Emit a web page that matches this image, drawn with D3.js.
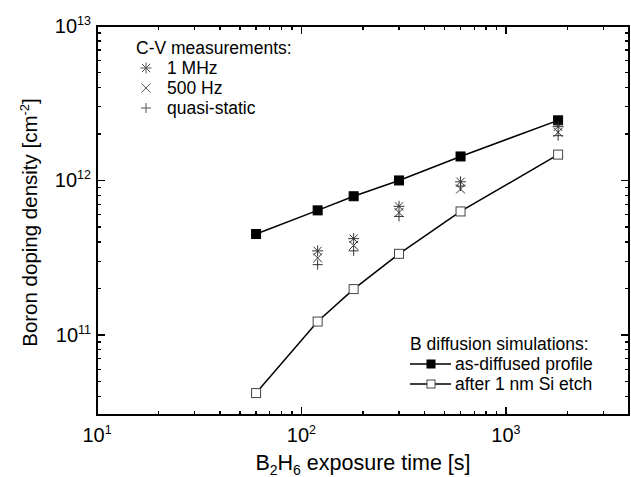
<!DOCTYPE html>
<html><head><meta charset="utf-8">
<script src="https://cdn.jsdelivr.net/npm/d3@7"></script>
<style>body{margin:0;background:#fff} svg{display:block} text{font-family:"Liberation Sans",Arial,sans-serif;fill:#000}</style>
</head><body><svg id="c" width="631" height="477"></svg>
<script>
// ---- data ----
const times = [60, 120, 180, 300, 600, 1800];
const asDiffused = [4.5e11, 6.4e11, 7.9e11, 1.0e12, 1.43e12, 2.45e12];
const afterEtch = [4.2e10, 1.22e11, 1.98e11, 3.35e11, 6.3e11, 1.47e12];
const cvTimes = [120, 180, 300, 600, 1800];
const mhz1 = [3.5e11, 4.2e11, 6.8e11, 9.8e11, 2.23e12];
const hz500 = [3.15e11, 3.8e11, 6.2e11, 8.8e11, 2.05e12];
const quasiStatic = [2.85e11, 3.5e11, 5.85e11, 9.2e11, 1.95e12];
const xMajorTicks = [10, 100, 1000];
const xMajorExp = ["1", "2", "3"];
const yMajorTicks = [1e11, 1e12, 1e13];
const yMajorExp = ["11", "12", "13"];
const cvLegend = ["1 MHz", "500 Hz", "quasi-static"];
const simLegend = ["as-diffused profile", "after 1 nm Si etch"];

// ---- layout ----
const L = 97, R = 629, T = 26, B = 415;
const svg = d3.select("#c");
const x = d3.scaleLog().domain([10, 4000]).range([L, R]);
const y = d3.scaleLog().domain([3.03e10, 1e13]).range([B, T]);

function minors(lo, hi) {
  const out = [];
  for (let e = Math.floor(Math.log10(lo)); e <= Math.ceil(Math.log10(hi)); e++) {
    for (let m = 2; m <= 9; m++) { const v = m * Math.pow(10, e); if (v > lo * 1.001 && v < hi * 0.999) out.push(v); }
  }
  return out;
}
const xMin = minors(10, 4000), yMin = minors(3.03e10, 1e13);

const g = svg.append("g").attr("stroke", "#000").attr("stroke-width", 1.2).attr("shape-rendering", "crispEdges");
const MJ = 8, MN = 4;
xMajorTicks.forEach(v => {
  g.append("line").attr("x1", x(v)).attr("x2", x(v)).attr("y1", B).attr("y2", B - MJ);
  g.append("line").attr("x1", x(v)).attr("x2", x(v)).attr("y1", T).attr("y2", T + MJ);
});
xMin.forEach(v => {
  g.append("line").attr("x1", x(v)).attr("x2", x(v)).attr("y1", B).attr("y2", B - MN);
  g.append("line").attr("x1", x(v)).attr("x2", x(v)).attr("y1", T).attr("y2", T + MN);
});
yMajorTicks.forEach(v => {
  g.append("line").attr("y1", y(v)).attr("y2", y(v)).attr("x1", L).attr("x2", L + MJ);
  g.append("line").attr("y1", y(v)).attr("y2", y(v)).attr("x1", R).attr("x2", R - MJ);
});
yMin.forEach(v => {
  g.append("line").attr("y1", y(v)).attr("y2", y(v)).attr("x1", L).attr("x2", L + MN);
  g.append("line").attr("y1", y(v)).attr("y2", y(v)).attr("x1", R).attr("x2", R - MN);
});
svg.append("rect").attr("x", L).attr("y", T).attr("width", R - L).attr("height", B - T)
  .attr("fill", "none").attr("stroke", "#000").attr("stroke-width", 1.3).attr("shape-rendering", "crispEdges");

// tick labels
xMajorTicks.forEach((v, i) => {
  const t = svg.append("text").attr("x", x(v)).attr("y", 442).attr("text-anchor", "middle").attr("font-size", 20);
  t.append("tspan").text("10");
  t.append("tspan").attr("font-size", 12.5).attr("dy", -8).text(xMajorExp[i]);
});
yMajorTicks.forEach((v, i) => {
  const t = svg.append("text").attr("x", 91).attr("y", y(v) + 7).attr("text-anchor", "end").attr("font-size", 20);
  t.append("tspan").text("10");
  t.append("tspan").attr("font-size", 12.5).attr("dy", -8).text(yMajorExp[i]);
});

// axis titles
const xt = svg.append("text").attr("x", (L + R) / 2).attr("y", 470).attr("text-anchor", "middle").attr("font-size", 21.5);
xt.append("tspan").text("B");
xt.append("tspan").attr("font-size", 14).attr("dy", 5).text("2");
xt.append("tspan").attr("dy", -5).text("H");
xt.append("tspan").attr("font-size", 14).attr("dy", 5).text("6");
xt.append("tspan").attr("dy", -5).text(" exposure time [s]");

const yt = svg.append("text").attr("transform", `translate(37,${(T + B) / 2 + 2}) rotate(-90)`).attr("text-anchor", "middle").attr("font-size", 20.5);
yt.append("tspan").text("Boron doping density [cm");
yt.append("tspan").attr("font-size", 13).attr("dy", -8).text("-2");
yt.append("tspan").attr("dy", 8).text("]");

// lines
const line = d3.line().x(d => x(d[0])).y(d => y(d[1]));
svg.append("path").datum(times.map((t, i) => [t, asDiffused[i]])).attr("d", line).attr("fill", "none").attr("stroke", "#000").attr("stroke-width", 1.5);
svg.append("path").datum(times.map((t, i) => [t, afterEtch[i]])).attr("d", line).attr("fill", "none").attr("stroke", "#000").attr("stroke-width", 1.5);

const S = 9;
times.forEach((t, i) => {
  svg.append("rect").attr("x", x(t) - S / 2).attr("y", y(asDiffused[i]) - S / 2).attr("width", S).attr("height", S)
    .attr("fill", "#000").attr("stroke", "#000").attr("stroke-width", 1);
  svg.append("rect").attr("x", x(t) - S / 2).attr("y", y(afterEtch[i]) - S / 2).attr("width", S).attr("height", S)
    .attr("fill", "#fff").attr("stroke", "#444").attr("stroke-width", 1);
});

// CV markers
const mk = "#333";
function asterisk(cx, cy, r) {
  const p = d3.path();
  p.moveTo(cx - r, cy); p.lineTo(cx + r, cy);
  p.moveTo(cx, cy - r); p.lineTo(cx, cy + r);
  const d = r * 0.75;
  p.moveTo(cx - d, cy - d); p.lineTo(cx + d, cy + d);
  p.moveTo(cx - d, cy + d); p.lineTo(cx + d, cy - d);
  return p.toString();
}
function cross(cx, cy, r) {
  const p = d3.path();
  p.moveTo(cx - r, cy - r); p.lineTo(cx + r, cy + r);
  p.moveTo(cx - r, cy + r); p.lineTo(cx + r, cy - r);
  return p.toString();
}
function plus(cx, cy, r) {
  const p = d3.path();
  p.moveTo(cx - r, cy); p.lineTo(cx + r, cy);
  p.moveTo(cx, cy - r); p.lineTo(cx, cy + r);
  return p.toString();
}
cvTimes.forEach((t, i) => {
  svg.append("path").attr("d", asterisk(x(t), y(mhz1[i]), 5.5)).attr("stroke", mk).attr("stroke-width", 1).attr("fill", "none");
  svg.append("path").attr("d", cross(x(t), y(hz500[i]), 4.5)).attr("stroke", mk).attr("stroke-width", 1).attr("fill", "none");
  svg.append("path").attr("d", plus(x(t), y(quasiStatic[i]), 5)).attr("stroke", mk).attr("stroke-width", 1).attr("fill", "none");
});

// CV legend
svg.append("text").attr("x", 136).attr("y", 54).attr("font-size", 17.5).text("C-V measurements:");
const lgY = [74, 94, 114];
const lgFns = [asterisk, cross, plus];
const lgR = [5.5, 4.5, 5];
cvLegend.forEach((s, i) => {
  svg.append("path").attr("d", lgFns[i](146, lgY[i] - 6, lgR[i])).attr("stroke", "#555").attr("stroke-width", 1).attr("fill", "none");
  svg.append("text").attr("x", 167).attr("y", lgY[i]).attr("font-size", 17.5).text(s);
});

// Simulation legend
svg.append("text").attr("x", 410).attr("y", 350).attr("font-size", 17.5).text("B diffusion simulations:");
const sY = [370, 390];
simLegend.forEach((s, i) => {
  const cy = sY[i] - 6;
  svg.append("line").attr("x1", 410).attr("x2", 451).attr("y1", cy).attr("y2", cy).attr("stroke", "#000").attr("stroke-width", 1.5);
  svg.append("rect").attr("x", 427).attr("y", cy - 4).attr("width", 8).attr("height", 8)
    .attr("fill", i === 0 ? "#000" : "#fff").attr("stroke", i === 0 ? "#000" : "#444").attr("stroke-width", 1);
  svg.append("text").attr("x", 455).attr("y", sY[i]).attr("font-size", 17.5).text(s);
});
</script></body></html>
